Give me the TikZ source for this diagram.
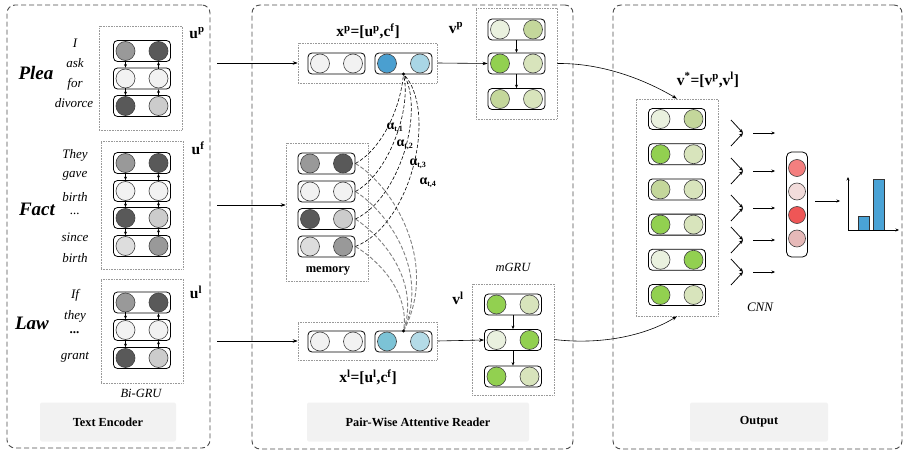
\documentclass[tikz,border=0pt]{standalone}
\usepackage{fontspec}
\setmainfont{Liberation Serif}
\usetikzlibrary{arrows.meta}
\definecolor{gMid}{HTML}{999999}
\definecolor{gDark}{HTML}{595959}
\definecolor{gPale}{HTML}{F2F2F2}
\definecolor{gLt}{HTML}{CCCCCC}
\definecolor{gLt2}{HTML}{DDDDDD}
\definecolor{bA}{HTML}{4A9FD0}
\definecolor{bB}{HTML}{A9D6E5}
\definecolor{bC}{HTML}{7CC3D6}
\definecolor{bD}{HTML}{B4DBE7}
\definecolor{grA}{HTML}{EAF1DF}
\definecolor{grB}{HTML}{C4D79B}
\definecolor{grC}{HTML}{92D050}
\definecolor{grD}{HTML}{D8E4BC}
\definecolor{rA}{HTML}{F47F7F}
\definecolor{rB}{HTML}{F2DCDB}
\definecolor{rC}{HTML}{EF5656}
\definecolor{rD}{HTML}{E6B9B8}
\definecolor{barc}{HTML}{4AA3D6}
\tikzset{
 cellbox/.style={draw=black, line width=0.8pt, rounded corners=4pt, minimum width=57pt, minimum height=21pt, fill=white, inner sep=0pt},
 ball/.style={circle, draw=black!75, line width=0.6pt, minimum size=19pt, inner sep=0pt},
 grp/.style={draw=black!40, densely dotted, line width=0.6pt, inner sep=0pt},
 panel/.style={draw=black!70, dash pattern=on 5pt off 3pt, line width=0.9pt, rounded corners=8pt},
 titlebox/.style={fill=black!5, rounded corners=2pt, inner sep=0pt, font=\bfseries\fontsize{12.3}{14}\selectfont},
 arr/.style={-{Stealth[length=5pt,width=3.5pt]}, line width=0.6pt},
 sarr/.style={-{Stealth[length=3.5pt,width=3pt]}, line width=0.6pt},
 carr/.style={-{Stealth[length=4pt,width=3.5pt]}, line width=0.75pt},
 lbl/.style={font=\bfseries\fontsize{15.5}{17}\selectfont},
 word/.style={font=\itshape\fontsize{13}{15}\selectfont},
 big/.style={font=\bfseries\itshape\fontsize{19}{21}\selectfont},
 att/.style={draw=black, dash pattern=on 3.5pt off 2pt, line width=0.6pt},
 attg/.style={draw=black!50, dash pattern=on 4pt off 2pt, line width=0.9pt},
 alab/.style={font=\bfseries\fontsize{14}{16}\selectfont, inner sep=0pt}
}
\newcommand\mycell[5]{%
 \node[cellbox] (#1) at (#2,#3) {};
 \node[ball, fill=#4] (#1a) at ([xshift=-16.5pt]#1.center) {};
 \node[ball, fill=#5] (#1b) at ([xshift=16.5pt]#1.center) {};
}
\newcommand\asub[1]{\textsubscript{\fontsize{8}{9}\selectfont #1}}
\begin{document}
\begin{tikzpicture}[x=1pt,y=-1pt]
\useasboundingbox (0,0) rectangle (905,452);
% panels
\node[panel, minimum width=203pt, minimum height=443pt] (pTE) at (108.5,226.5) {};
\node[panel, minimum width=321pt, minimum height=444pt] (pPW) at (412.5,227) {};
\node[panel, minimum width=289pt, minimum height=444pt] (pOut) at (757.5,227) {};
\node[titlebox, minimum width=136pt, minimum height=39pt] (tTE) at (108,422) {Text Encoder};
\node[titlebox, minimum width=222pt, minimum height=39pt] (tPW) at (418,422) {Pair-Wise Attentive Reader};
\node[titlebox, minimum width=138pt, minimum height=39pt] (tOut) at (759,422) {Output};

% ---------- Text encoder ----------
\node[big] (plea) at (36,73) {Plea};
\node[big] (fact) at (37,209) {Fact};
\node[big] (law) at (32,323) {Law};
\node[word] (w1) at (75,43) {I};
\node[word] (w2) at (75,63) {ask};
\node[word] (w3) at (75,84) {for};
\node[word] (w4) at (74,103) {divorce};
\node[word] (w5) at (75,155) {They};
\node[word] (w6) at (75,176) {gave};
\node[word] (w7) at (75,197) {birth};
\node[word] (w8) at (75,214) {...};
\node[word] (w9) at (75,237) {since};
\node[word] (w10) at (75,258) {birth};
\node[word] (w11) at (75,295) {If};
\node[word] (w12) at (75,316) {they};
\node[word] (w13) at (75,333) {\bfseries ...};
\node[word] (w14) at (75,357) {grant};

\node[grp, minimum width=83pt, minimum height=104pt] (gP) at (140.5,78) {};
\node[grp, minimum width=82pt, minimum height=128pt] (gF) at (142,205) {};
\node[grp, minimum width=82pt, minimum height=104pt] (gL) at (142,331) {};
\node[word, font=\itshape\fontsize{12.5}{14}\selectfont] (bigru) at (141,393) {Bi-GRU};
\node[lbl] (up) at (197,33) {u\textsuperscript{p}};
\node[lbl] (uf) at (198,148) {u\textsuperscript{f}};
\node[lbl] (ul) at (196,292) {u\textsuperscript{l}};

\mycell{p1}{142}{51}{gMid}{gDark}
\mycell{p2}{142}{78.5}{gPale}{gPale}
\mycell{p3}{142}{106}{gDark}{gLt}
\mycell{f1}{142}{163}{gMid}{gDark}
\mycell{f2}{142}{191}{gPale}{gPale}
\mycell{f3}{142}{218}{gDark}{gLt}
\mycell{f4}{142}{246}{gLt2}{gMid}
\mycell{l1}{142}{302.5}{gMid}{gDark}
\mycell{l2}{142}{330}{gPale}{gPale}
\mycell{l3}{142}{358}{gDark}{gLt}
\foreach \u/\v in {p1/p2,p2/p3,f1/f2,f2/f3,f3/f4,l1/l2,l2/l3}{
  \draw[sarr] (\u a.south) -- (\v.north -| \v a);
  \draw[sarr] (\v b.north) -- (\u.south -| \u b);
}

% ---------- Pair-wise attentive reader ----------
\node[grp, minimum width=139pt, minimum height=40pt] (xp) at (367.5,63) {};
\node[grp, minimum width=139pt, minimum height=38pt] (xl) at (367.5,341) {};
\mycell{xpA}{336.5}{63.5}{gPale}{gPale}
\mycell{xpB}{403.5}{63.5}{bA}{bB}
\mycell{xlA}{336.5}{341.5}{gPale}{gPale}
\mycell{xlB}{403.5}{341.5}{bC}{bD}
\node[lbl] (xplab) at (368,31) {x\textsuperscript{p}=[u\textsuperscript{p},c\textsuperscript{f}]};
\node[lbl] (xllab) at (368,377) {x\textsuperscript{l}=[u\textsuperscript{l},c\textsuperscript{f}]};

\node[grp, minimum width=82pt, minimum height=138pt] (mem) at (327,212) {};
\mycell{m1}{326.5}{163.5}{gMid}{gDark}
\mycell{m2}{326.5}{191.5}{gPale}{gPale}
\mycell{m3}{326.5}{219}{gDark}{gLt}
\mycell{m4}{326.5}{246.5}{gLt2}{gMid}
\node[font=\bfseries\fontsize{12.5}{14}\selectfont] (memlab) at (328,271) {memory};

\node[grp, minimum width=81pt, minimum height=111pt] (vp) at (516.5,63.5) {};
\mycell{vp1}{516.5}{29.5}{grA}{grB}
\mycell{vp2}{516.5}{63.5}{grC}{grD}
\mycell{vp3}{516.5}{99}{grB}{grD}
\draw[sarr] (vp1.south) -- (vp2.north);
\draw[sarr] (vp2.south) -- (vp3.north);
\node[lbl] (vplab) at (456,28) {v\textsuperscript{p}};

\node[grp, minimum width=82pt, minimum height=111pt] (vl) at (513,339.5) {};
\mycell{vl1}{513}{304.5}{grC}{grD}
\mycell{vl2}{513}{340}{grA}{grC}
\mycell{vl3}{513}{376.5}{grC}{grD}
\draw[sarr] (vl1.south) -- (vl2.north);
\draw[sarr] (vl2.south) -- (vl3.north);
\node[lbl] (vllab) at (458,298) {v\textsuperscript{l}};
\node[word, font=\itshape\fontsize{12.5}{14}\selectfont] (mgru) at (513,267) {mGRU};

% inputs
\coordinate (s1) at (217,63);
\coordinate (s2) at (217,205);
\coordinate (s3) at (217,341);
\draw[arr] (s1) -- (s1 -| xp.west);
\draw[arr] (s2) -- (s2 -| mem.west);
\draw[arr] (s3) -- (s3 -| xl.west);
\draw[arr] (xp.east) -- (vp2.west);
\draw[arr] (xl.east) -- (vl2.west);

% attention
\coordinate (tp) at (403.5,74);
\coordinate (tl) at (403.5,331);
\draw[attg] (m1.east) .. controls (392,185) and (440,262) .. (tl);
\draw[attg] (m2.east) .. controls (388,212) and (430,272) .. (tl);
\draw[attg] (m3.east) .. controls (384,238) and (420,282) .. (tl);
\draw[attg] (m4.east) .. controls (378,260) and (410,292) .. (tl);
\draw[att] (m1.east) .. controls (380,150) and (400,112) .. (tp);
\draw[att] (m2.east) .. controls (388,174) and (412,110) .. (tp);
\draw[att] (m3.east) .. controls (400,198) and (425,110) .. (tp);
\draw[att] (m4.east) .. controls (412,224) and (438,110) .. (tp);
\fill (tp) circle (1.6pt);
\fill (tl) circle (1.6pt);
\node[alab] (a1) at (395,128) {α\asub{t,1}};
\node[alab] (a2) at (405,145) {α\asub{t,2}};
\node[alab] (a3) at (418,164) {α\asub{t,3}};
\node[alab] (a4) at (428,183) {α\asub{t,4}};

% ---------- Output ----------
\node[grp, minimum width=82pt, minimum height=217pt] (vs) at (677,207.5) {};
\mycell{o1}{677}{119}{grA}{grB}
\mycell{o2}{677}{154.2}{grC}{grD}
\mycell{o3}{677}{189.4}{grB}{grD}
\mycell{o4}{677}{224.6}{grC}{grD}
\mycell{o5}{677}{259.8}{grA}{grC}
\mycell{o6}{677}{295}{grC}{grD}
\node[lbl] (vslab) at (708,80) {v\textsuperscript{*}=[v\textsuperscript{p},v\textsuperscript{l}]};
\draw[arr] (vp.east) .. controls (600,63) and (642,78) .. (vs.north);
\draw[arr] (vl.east) .. controls (600,345) and (645,336) .. (vs.south);

\foreach \i/\y in {1/133,2/171,3/208,4/240,5/272}{
  \coordinate (cv\i) at (743,\y);
  \coordinate (cu\i) at (731,\y-13);
  \coordinate (cd\i) at (731,\y+13);
  \coordinate (ca\i) at (753,\y);
  \coordinate (cb\i) at (775,\y);
  \draw[carr] (cu\i) -- (cv\i);
  \draw[carr] (cd\i) -- (cv\i);
  \draw[sarr] (ca\i) -- (cb\i);
}
\node[word] (cnn) at (760,307) {CNN};

\node[draw=black, line width=0.8pt, rounded corners=5pt, minimum width=21pt, minimum height=105pt, inner sep=0pt] (red) at (797,204.5) {};
\node[ball, minimum size=17pt, fill=rA] (r1) at (797,168) {};
\node[ball, minimum size=17pt, fill=rB] (r2) at (797,191.5) {};
\node[ball, minimum size=17pt, fill=rC] (r3) at (797,215) {};
\node[ball, minimum size=17pt, fill=rD] (r4) at (797,238.5) {};
\coordinate (ra) at (815,201);
\coordinate (rb) at (840,201);
\draw[sarr] (ra) -- (rb);
\coordinate (org) at (848,230);
\coordinate (yt) at (848,177);
\coordinate (xt) at (899,230);
\draw[fill=barc, draw=black!80, line width=0.5pt] (858,230) rectangle (869,216);
\draw[fill=barc, draw=black!80, line width=0.5pt] (873,230) rectangle (884,179);
\draw[sarr] (org) -- (yt);
\draw[sarr] (org) -- (xt);
\end{tikzpicture}
\end{document}
